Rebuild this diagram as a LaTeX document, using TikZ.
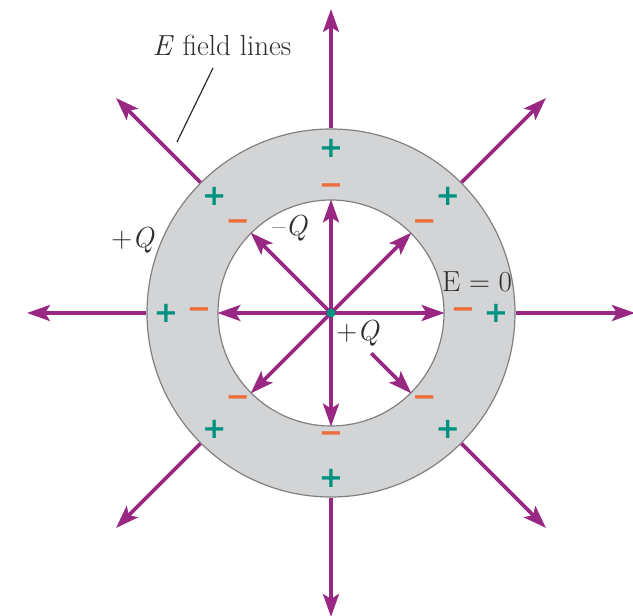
\documentclass[tikz,border=0pt]{standalone}
\usepackage{fontspec}
\newfontfamily\signfont{DejaVu Sans}
\usetikzlibrary{arrows.meta}
\definecolor{fieldpurple}{RGB}{152,40,130}
\definecolor{plusteal}{RGB}{0,146,128}
\definecolor{minusorange}{RGB}{238,108,58}
\definecolor{ringgray}{RGB}{211,212,214}
\definecolor{edgegray}{RGB}{128,128,128}
\definecolor{labelgray}{RGB}{45,45,45}
\begin{document}
\begin{tikzpicture}[x=1pt, y=1pt,
  field/.style={draw=fieldpurple, line width=3.6pt, -{Stealth[length=23pt, width=16pt, inset=5pt]}},
  shell/.style={circle, draw=edgegray, line width=1.2pt, inner sep=0},
  plus/.style={text=plusteal, font=\signfont\bfseries\fontsize{29}{29}\selectfont, inner sep=0},
  minus/.style={text=minusorange, font=\signfont\bfseries\fontsize{29}{29}\selectfont, inner sep=0},
  tag/.style={text=labelgray, font=\fontsize{29}{33}\selectfont, inner sep=1pt}
]
\useasboundingbox (-331,-303) rectangle (302,313);

% conducting shell
\node[shell, fill=ringgray, minimum size=368pt] (outer) at (0,0) {};
\node[shell, fill=white, minimum size=226pt] (inner) at (0,0) {};
\coordinate (centre) at (0,0);

% field lines outside
\foreach \a in {0,45,...,315} {
  \coordinate (tip\a) at (\a:304);
  \draw[field] (outer.\a) -- (tip\a);
}

% field lines in the cavity
\foreach \a in {0,45,...,270} {
  \draw[field] (centre) -- (inner.\a);
}
\coordinate (mid315) at (315:57);
\draw[field] (mid315) -- (inner.315);

\node[circle, fill=plusteal, minimum size=9pt, inner sep=0] (q) at (centre) {};

% induced charges
\foreach \a in {0,45,...,315} {
  \node[plus] (p\a) at (\a:165) {+};
  \node[minus] (m\a) at (\a:132 and 124) {−};
}

% labels
\node[tag] (fieldlbl) at (-109,268) {\textit{E} field lines};
\coordinate (leadtop) at (-118,245);
\coordinate (leadend) at (-154,171);
\draw[labelgray, line width=1.2pt] (leadtop) -- (leadend);
\node[tag] (outerq) at (-198,73) {+\textit{Q}};
\node[tag] (innerq) at (-41,85) {\textendash\textit{Q}};
\node[tag] (pointq) at (27,-20) {+\textit{Q}};
\node[tag] (ezero) at (146,31) {E = 0};
\end{tikzpicture}
\end{document}
